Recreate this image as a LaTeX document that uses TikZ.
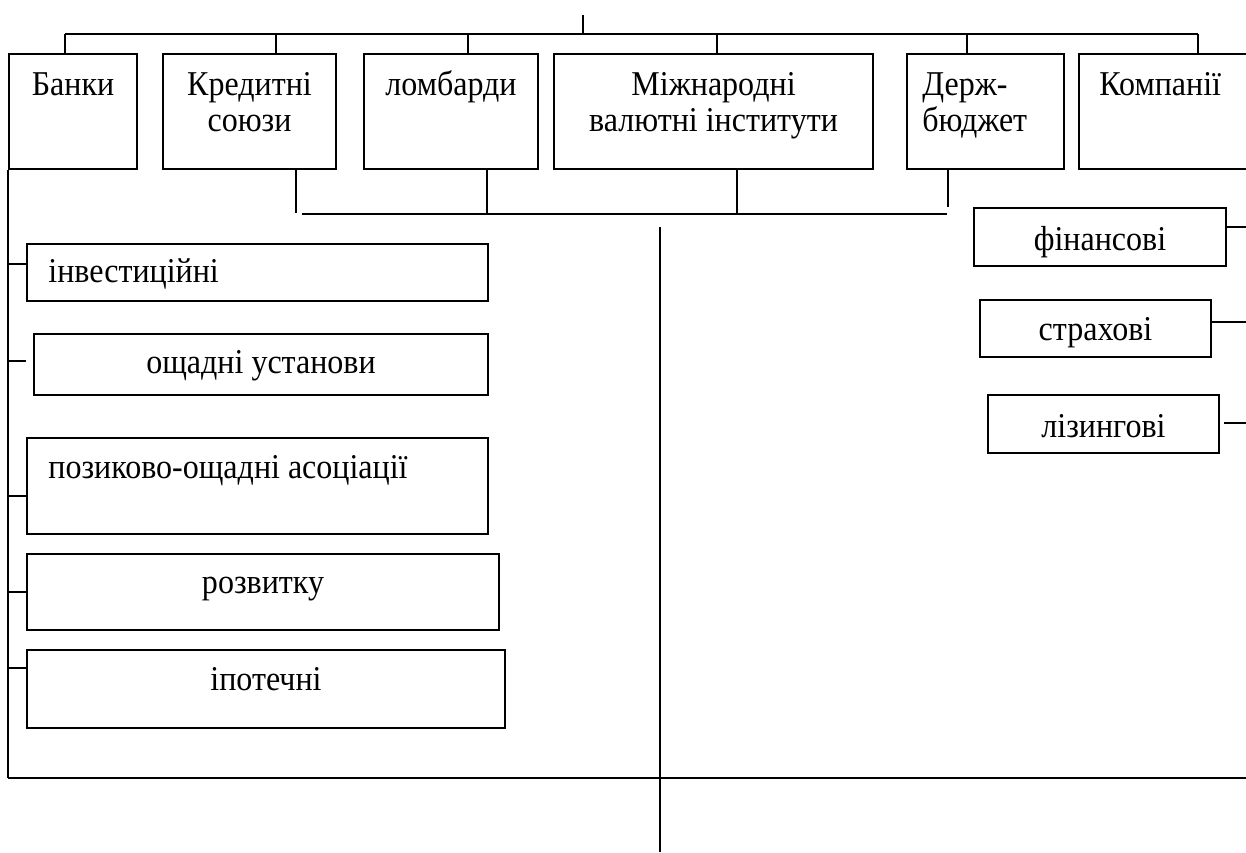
\documentclass[tikz,border=0pt]{standalone}
\usepackage{fontspec}
\setmainfont{Liberation Serif}[FakeStretch=0.92]
\usetikzlibrary{positioning}
\tikzset{
  box/.style={draw=black, line width=1pt, inner sep=0pt, anchor=north west},
  txt/.style={inner sep=0pt, align=center, font=\fontsize{17.4}{18}\selectfont},
  link/.style={draw=black, line width=1pt},
  bus/.style={draw=black, line width=1.4pt}
}

\begin{document}
\begin{tikzpicture}[x=0.5pt,y=-0.5pt]
  \useasboundingbox (0,0) rectangle (1246,852);
  \clip (0,0) rectangle (1246,852);

  % top row
  \node[box, minimum width=64pt, minimum height=57.5pt] (banky) at (8,53) {};
  \node[box, minimum width=86.5pt, minimum height=57.5pt] (kredyt) at (162,53) {};
  \node[box, minimum width=87pt, minimum height=57.5pt] (lombard) at (363,53) {};
  \node[box, minimum width=159.5pt, minimum height=57.5pt] (mvi) at (553,53) {};
  \node[box, minimum width=78.5pt, minimum height=57.5pt] (derzh) at (906,53) {};
  \node[box, minimum width=90pt, minimum height=57.5pt] (komp) at (1078,53) {};

  \node[txt, anchor=base] (banky-t) at (banky.north |- 0,95) {Банки};
  \node[txt, below=9.5pt of kredyt.north] (kredyt-t) {Кредитні\\союзи};
  \node[txt, anchor=base] (lombard-t) at (lombard.north |- 0,95) {ломбарди};
  \node[txt, below=9.5pt of mvi.north] (mvi-t) {Міжнародні\\валютні інститути};
  \node[txt, align=left, below right=9.5pt and 8pt of derzh.north west] (derzh-t) {Держ-\\бюджет};
  \node[txt, anchor=base west, xshift=10.5pt] (komp-t) at (komp.north west |- 0,95) {Компанії};

  % banks
  \node[box, minimum width=230.5pt, minimum height=28.5pt] (invest) at (26,243) {};
  \node[box, minimum width=227pt, minimum height=30.5pt] (oshch) at (33,333) {};
  \node[box, minimum width=230.5pt, minimum height=48pt] (pozyk) at (26,437) {};
  \node[box, minimum width=236pt, minimum height=38pt] (rozv) at (26,553) {};
  \node[box, minimum width=239pt, minimum height=39pt] (ipot) at (26,649) {};

  \node[txt, anchor=base west, xshift=11pt] (invest-t) at (invest.west |- 0,282) {інвестиційні};
  \node[txt, anchor=base] (oshch-t) at (oshch.center |- 0,373) {ощадні установи};
  \node[txt, anchor=base west, xshift=11pt] (pozyk-t) at (pozyk.west |- 0,478) {позиково-ощадні асоціації};
  \node[txt, anchor=base] (rozv-t) at (rozv.center |- 0,593) {розвитку};
  \node[txt, anchor=base] (ipot-t) at (ipot.center |- 0,690) {іпотечні};

  % companies
  \node[box, minimum width=126pt, minimum height=29pt] (fin) at (973,207) {};
  \node[box, minimum width=115.5pt, minimum height=28.5pt] (strakh) at (979,299) {};
  \node[box, minimum width=115.5pt, minimum height=29pt] (lizyng) at (987,394) {};

  \node[txt, anchor=base] (fin-t) at (fin.center |- 0,250) {фінансові};
  \node[txt, anchor=base] (strakh-t) at (strakh.center |- 0,340) {страхові};
  \node[txt, anchor=base] (lizyng-t) at (lizyng.center |- 0,437) {лізингові};

  % connectors
  \coordinate (apex) at (583,15);
  \coordinate (hub) at (583,34);
  \coordinate (hub-l) at (65,34);
  \coordinate (hub-r) at (1198,34);
  \coordinate (edge) at (1246,0);
  \coordinate (floor) at (1246,778);
  \coordinate (bus-l) at (302,214);
  \coordinate (bus-r) at (947,214);
  \coordinate (mid-top) at (660,227);
  \coordinate (mid-bot) at (660,852);

  \draw[link] (apex) -- (hub);
  \draw[link] (hub-l) -- (hub-r);
  \foreach \x/\n in {65/banky,276/kredyt,468/lombard,717/mvi,967/derzh,1198/komp}
    \draw[link] (\x,34) -- (\n.north -| \x,34);

  \draw[link] (kredyt.south -| 296,0) -- (296,213);
  \draw[link] (lombard.south -| 487,0) -- (487,214);
  \draw[link] (mvi.south -| 737,0) -- (737,214);
  \draw[link] (derzh.south -| 948,0) -- (948,207);
  \draw[link] (bus-l) -- (bus-r);

  \draw[bus] (mid-top) -- (mid-bot);
  \draw[link] (banky.south west) -- (banky.south west |- floor);
  \draw[bus] (banky.south west |- floor) -- (floor);
  \foreach \y in {264,361,496,592,668}
    \draw[link] (banky.south west |- 0,\y) -- (invest.west |- 0,\y);

  \draw[link] (fin.east |- 0,227) -- (edge |- 0,227);
  \draw[link] (strakh.east |- 0,322) -- (edge |- 0,322);
  \draw[link] (1224,423) -- (edge |- 0,423);
\end{tikzpicture}
\end{document}
